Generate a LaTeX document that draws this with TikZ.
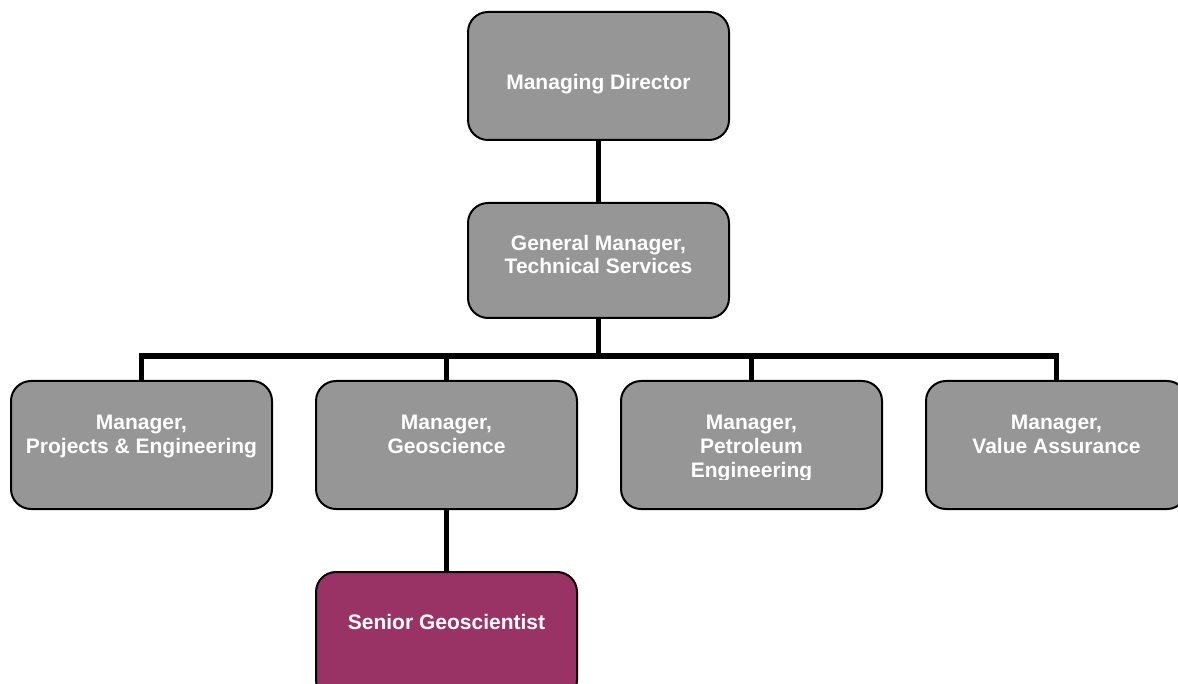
\documentclass[tikz,border=0pt]{standalone}
\usepackage{fontspec}
\setmainfont{Liberation Sans}
\definecolor{boxgray}{RGB}{150,150,150}
\definecolor{plum}{RGB}{153,51,102}
\begin{document}
\begin{tikzpicture}[x=1pt,y=-1pt,
  box/.style={draw=black,line width=2pt,fill=boxgray,rounded corners=20pt,
              minimum width=261pt,minimum height=128pt,inner sep=0pt},
  txt/.style={text=white,font=\bfseries\fontsize{21}{24}\selectfont,anchor=base,inner sep=0pt},
  link/.style={line width=5.5pt,draw=black,line join=miter}]
\useasboundingbox (0,0) rectangle (1178,684);
\clip (0,0) rectangle (1178,684);
\fill[white] (0,0) rectangle (1178,684);

% boxes
\node[box] (md) at (598.5,76) {};
\node[box,minimum height=115pt] (gm) at (598.5,260.5) {};
\node[box] (b1) at (141.5,445) {};
\node[box] (b2) at (446.5,445) {};
\node[box] (b3) at (751.5,445) {};
\node[box] (b4) at (1056.5,445) {};
\node[box,fill=plum] (sg) at (446.5,636) {};

% connectors
\coordinate (bus) at (598.5,356);
\draw[link] (md.south) -- (gm.north);
\draw[link] (gm.south) -- (bus);
\draw[link] (b1.north) |- (bus);
\draw[link] (b2.north) |- (bus);
\draw[link] (b3.north) |- (bus);
\draw[link] (b4.north) |- (bus);
\draw[link] (b2.south) -- (sg.north);

% texts
\node[txt] (md-t) at (598.5,90) {Managing Director};
\node[txt] (gm-t1) at (598.5,251) {General Manager,};
\node[txt] (gm-t2) at (598.5,274) {Technical Services};
\node[txt] (b1-t1) at (141.5,429) {Manager,};
\node[txt] (b1-t2) at (141.5,453) {Projects \& Engineering};
\node[txt] (b2-t1) at (446.5,429) {Manager,};
\node[txt] (b2-t2) at (446.5,453) {Geoscience};
\node[txt] (b3-t1) at (751.5,429) {Manager,};
\node[txt] (b3-t2) at (751.5,453) {Petroleum};
\begin{scope}
  \clip (621,381) rectangle (882,479);
  \node[txt] (b3-t3) at (751.5,477) {Engineering};
\end{scope}
\node[txt] (b4-t1) at (1056.5,429) {Manager,};
\node[txt] (b4-t2) at (1056.5,453) {Value Assurance};
\node[txt] (sg-t) at (446.5,629) {Senior Geoscientist};
\end{tikzpicture}
\end{document}
